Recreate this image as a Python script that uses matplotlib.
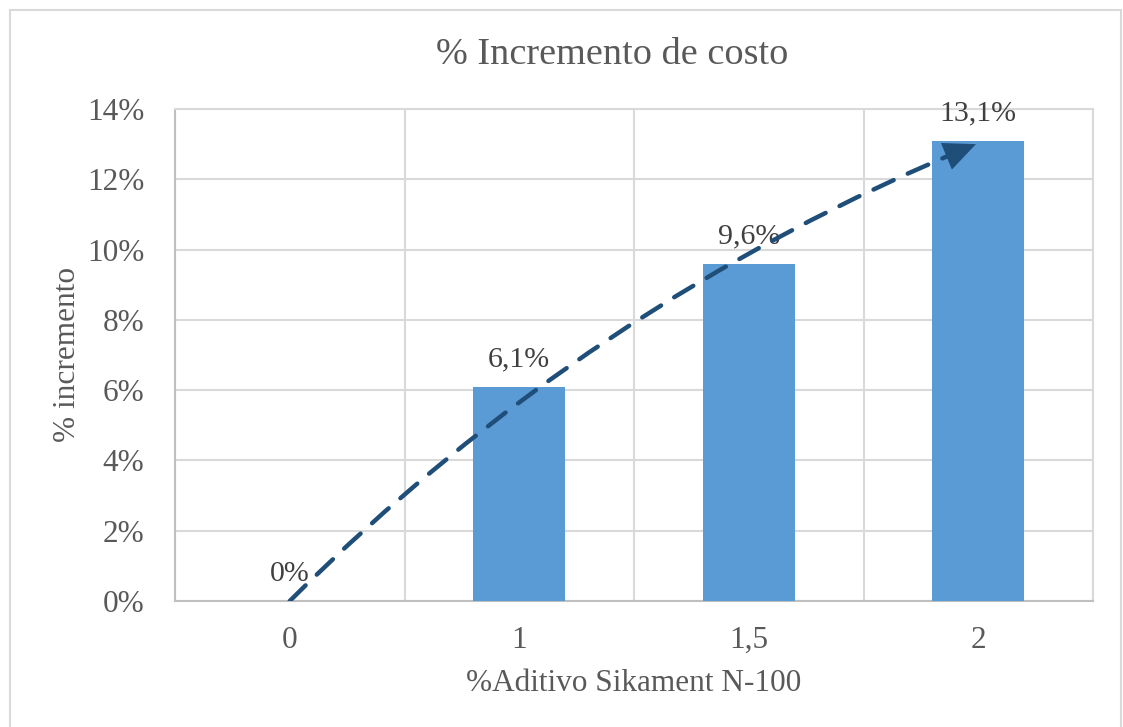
import matplotlib.pyplot as plt
from matplotlib.patches import FancyArrowPatch, Rectangle

# data
categories = ['0', '1', '1,5', '2']
values = [0.0, 6.1, 9.6, 13.1]
labels = ['0%', '6,1%', '9,6%', '13,1%']
yticks = [0, 2, 4, 6, 8, 10, 12, 14]

plt.rcParams['font.family'] = ['Liberation Serif', 'DejaVu Serif']

fig = plt.figure(figsize=(11.23, 7.27), dpi=100)
ax = fig.add_axes([175 / 1123, 126 / 727, 918 / 1123, 492 / 727])

x = list(range(len(categories)))
ax.bar(x, values, width=0.4, color='#5B9BD5', zorder=3)

for xi, v, lab in zip(x, values, labels):
    ax.annotate(lab, (xi, v), xytext=(0, 10), textcoords='offset points',
                ha='center', va='bottom', fontsize=21.5, color='#404040', zorder=5)

ax.set_xlim(-0.5, len(categories) - 0.5)
ax.set_ylim(0, 14)
ax.set_yticks(yticks)
ax.set_yticklabels([f'{t}%' for t in yticks])
ax.set_xticks(x)
ax.set_xticklabels(categories)
ax.set_xticks([i - 0.5 for i in range(len(categories) + 1)], minor=True)
ax.tick_params(axis='both', which='both', length=0, labelsize=22.5, colors='#595959')
ax.tick_params(axis='x', pad=18)
ax.tick_params(axis='y', pad=22)

ax.grid(axis='y', which='major', color='#D9D9D9', lw=1.5, zorder=0)
ax.grid(axis='x', which='minor', color='#D9D9D9', lw=1.5, zorder=0)
ax.grid(axis='x', which='major', visible=False)
for s in ['top', 'right']:
    ax.spines[s].set_color('#D9D9D9')
    ax.spines[s].set_linewidth(1.5)
for s in ['left', 'bottom']:
    ax.spines[s].set_color('#BFBFBF')
    ax.spines[s].set_linewidth(1.5)

ax.set_xlabel('%Aditivo Sikament N-100', fontsize=22.5, color='#595959', labelpad=10)
ax.set_ylabel('% incremento', fontsize=22.5, color='#595959', labelpad=4)
fig.text(612 / 1123, 1 - 55 / 727, '% Incremento de costo', ha='center', va='center',
         fontsize=27.5, color='#595959')

# trend arrow drawn over the chart: dashed body + solid head on the same curve
start = (x[0], values[0])
end = (x[-1] - 0.01, values[-1] - 0.1)
curve = 'arc3,rad=-0.1'
body = FancyArrowPatch(start, end, arrowstyle='-', connectionstyle=curve,
                       color='#1F4E79', lw=3.2, linestyle=(0, (5, 3.5)),
                       shrinkA=0, shrinkB=0, zorder=6)
body.set_capstyle('round')
ax.add_patch(body)
head = FancyArrowPatch(start, end, arrowstyle='-|>,head_length=1.0,head_width=0.45',
                       connectionstyle=curve, mutation_scale=23,
                       color='#1F4E79', lw=0, shrinkA=0, shrinkB=0, zorder=6)
ax.add_patch(head)

# outer chart border
fig.patches.append(Rectangle((10 / 1123, -0.05), 1111 / 1123, 1.05 - 10 / 727,
                             transform=fig.transFigure, fill=False,
                             edgecolor='#D9D9D9', lw=1.5))

fig.savefig('out.png', dpi=100)
